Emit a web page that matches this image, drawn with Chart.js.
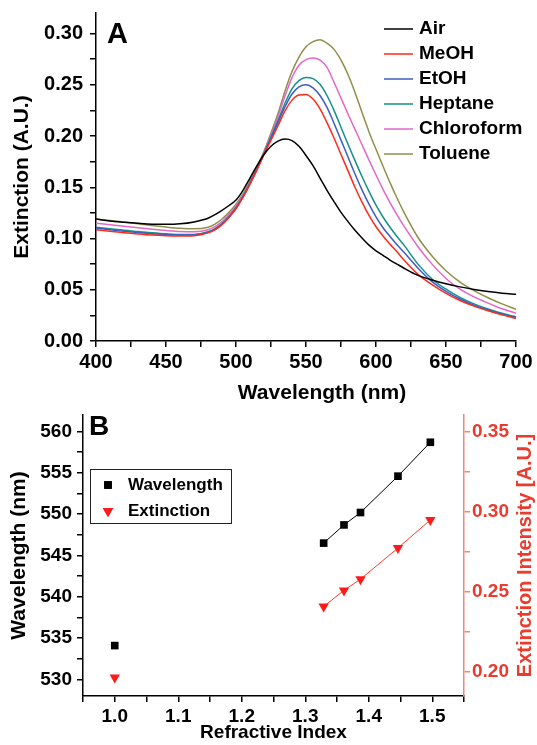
<!DOCTYPE html>
<html>
<head>
<meta charset="utf-8">
<title>Extinction spectra</title>
<script src="https://cdn.jsdelivr.net/npm/chart.js@4.4.0/dist/chart.umd.min.js"></script>
<style>
  html, body { margin: 0; padding: 0; background: #fff; }
  #wrapA { position: absolute; left: 0; top: 0; width: 537px; height: 405px; }
  #wrapB { position: absolute; left: 0; top: 405px; width: 537px; height: 340px; }
</style>
</head>
<body>
<div id="wrapA"><canvas id="spectraChart"></canvas></div>
<div id="wrapB"><canvas id="shiftChart"></canvas></div>
<script>
// Panel A - extinction spectra
const wavelengths = [400, 410, 420, 430, 440, 450, 460, 470, 480, 485, 490, 495, 500, 505, 510, 515, 520, 525, 530, 535,
  540, 545, 550, 555, 560, 565, 570, 575, 580, 585, 590, 595, 600, 605, 610, 615, 620, 630, 640, 650, 660, 670, 680, 690, 700];

const air = [0.119, 0.117, 0.1158, 0.1148, 0.114, 0.1138, 0.1143, 0.1162, 0.1198, 0.1232, 0.1275, 0.1322, 0.1375, 0.147, 0.159, 0.171, 0.182, 0.190, 0.195, 0.197,
  0.1955, 0.190, 0.181, 0.171, 0.159, 0.147, 0.136, 0.1255, 0.1165, 0.108, 0.1005, 0.0935, 0.088, 0.0835, 0.079, 0.075, 0.071, 0.064, 0.0595, 0.0558, 0.0528, 0.0503, 0.0483, 0.0467, 0.0455];
const meoh = [0.1085, 0.107, 0.1055, 0.1043, 0.1033, 0.1027, 0.1025, 0.1028, 0.1055, 0.1085, 0.1135, 0.1205, 0.129, 0.140, 0.153, 0.167, 0.182, 0.196, 0.210, 0.2245,
  0.235, 0.240, 0.2405, 0.236, 0.2265, 0.213, 0.198, 0.182, 0.166, 0.150, 0.1355, 0.1225, 0.1115, 0.1025, 0.0945, 0.087, 0.079, 0.065, 0.055, 0.0465, 0.0395, 0.034, 0.0295, 0.0255, 0.022];
const etoh = [0.110, 0.1085, 0.107, 0.1058, 0.1047, 0.1038, 0.1033, 0.1035, 0.106, 0.109, 0.114, 0.121, 0.1295, 0.1405, 0.1535, 0.1675, 0.1825, 0.1975, 0.213, 0.2285,
  0.241, 0.248, 0.250, 0.247, 0.2395, 0.228, 0.2125, 0.196, 0.1795, 0.163, 0.1475, 0.1335, 0.121, 0.1105, 0.102, 0.094, 0.0865, 0.071, 0.058, 0.0485, 0.041, 0.035, 0.0302, 0.0262, 0.023];
const heptane = [0.111, 0.1095, 0.108, 0.1068, 0.1056, 0.1046, 0.104, 0.104, 0.1065, 0.1095, 0.1145, 0.1215, 0.130, 0.141, 0.154, 0.168, 0.183, 0.199, 0.215, 0.232,
  0.246, 0.254, 0.257, 0.256, 0.2505, 0.2395, 0.225, 0.2085, 0.192, 0.176, 0.1605, 0.146, 0.1325, 0.121, 0.111, 0.102, 0.0935, 0.075, 0.0605, 0.0505, 0.0425, 0.0362, 0.0312, 0.027, 0.0237];
const chloroform = [0.115, 0.1135, 0.112, 0.1105, 0.109, 0.1078, 0.1068, 0.1065, 0.1085, 0.1115, 0.1165, 0.1235, 0.1315, 0.142, 0.155, 0.169, 0.184, 0.201, 0.219, 0.239,
  0.257, 0.269, 0.2745, 0.276, 0.274, 0.267, 0.2525, 0.237, 0.2215, 0.2065, 0.1915, 0.1765, 0.162, 0.148, 0.135, 0.123, 0.112, 0.092, 0.075, 0.061, 0.0505, 0.043, 0.037, 0.0315, 0.027];
const toluene = [0.119, 0.1175, 0.116, 0.1143, 0.1127, 0.1112, 0.110, 0.1095, 0.111, 0.114, 0.119, 0.1255, 0.1335, 0.1435, 0.156, 0.170, 0.185, 0.203, 0.222, 0.244,
  0.263, 0.277, 0.287, 0.292, 0.294, 0.2905, 0.2845, 0.274, 0.260, 0.2425, 0.223, 0.204, 0.187, 0.1705, 0.1545, 0.1395, 0.1255, 0.101, 0.083, 0.0685, 0.0575, 0.0492, 0.0422, 0.0362, 0.031];

const seriesNames = ['Air', 'MeOH', 'EtOH', 'Heptane', 'Chloroform', 'Toluene'];
const seriesValues = [air, meoh, etoh, heptane, chloroform, toluene];
const seriesColors = ['#000000', '#ff2a1a', '#3d5cc4', '#12918b', '#e466c8', '#8f8f4a'];

// Panel B - peak position and peak extinction vs refractive index
const refractiveIndex = [1.0, 1.329, 1.361, 1.387, 1.446, 1.497];
const peakWavelength = [534.1, 546.5, 548.7, 550.2, 554.6, 558.7];
const peakExtinction = [0.1965, 0.241, 0.251, 0.258, 0.2775, 0.295];

const FONT = '"Liberation Sans", Arial, Helvetica, sans-serif';
const RED_TEXT = '#ec3a2c';
const RED_AXIS = '#f0857a';

Chart.defaults.font.family = FONT;
Chart.defaults.font.weight = 'bold';
Chart.defaults.color = '#000';

// legend, x title and panel letter for A
const spectraLegend = {
  id: 'spectraLegend',
  afterDraw(chart) {
    const ctx = chart.ctx;
    ctx.save();
    ctx.font = 'bold 19px ' + FONT;
    ctx.textBaseline = 'middle';
    chart.data.datasets.forEach((ds, i) => {
      const y = 29 + i * 25;
      ctx.strokeStyle = ds.borderColor;
      ctx.lineWidth = 1.5;
      ctx.beginPath();
      ctx.moveTo(384, y);
      ctx.lineTo(413, y);
      ctx.stroke();
      ctx.fillStyle = '#000';
      ctx.fillText(ds.label, 419, y);
    });
    // x title sits a little right of centre in the original
    ctx.font = 'bold 21px ' + FONT;
    ctx.textAlign = 'center';
    ctx.fillText('Wavelength (nm)', 322, 393);
    ctx.textAlign = 'left';
    ctx.font = 'bold 29px ' + FONT;
    ctx.textBaseline = 'alphabetic';
    ctx.fillText('A', 107, 43);
    ctx.restore();
  }
};

// boxed legend, right title and panel letter for B
const shiftLegend = {
  id: 'shiftLegend',
  afterDraw(chart) {
    const ctx = chart.ctx;
    const area = chart.chartArea;
    ctx.save();
    ctx.strokeStyle = '#222';
    ctx.lineWidth = 1;
    ctx.strokeRect(90.5, 64.5, 141, 54);
    ctx.font = 'bold 17px ' + FONT;
    ctx.textBaseline = 'middle';
    chart.data.datasets.forEach((ds, i) => {
      const y = 80 + i * 26;
      ctx.fillStyle = ds.backgroundColor;
      ctx.beginPath();
      Chart.helpers.drawPoint(ctx, {
        pointStyle: ds.pointStyle,
        rotation: ds.rotation || 0,
        radius: ds.pointRadius,
        borderWidth: 0
      }, 108, y);
      ctx.fill();
      ctx.fillStyle = '#000';
      ctx.fillText(ds.label, 128, y);
    });

    // right axis title reads bottom-to-top like the left one
    ctx.save();
    ctx.translate(525, (area.top + area.bottom) / 2);
    ctx.rotate(-Math.PI / 2);
    ctx.textAlign = 'center';
    ctx.fillStyle = RED_TEXT;
    ctx.font = 'bold 20px ' + FONT;
    ctx.fillText('Extinction Intensity [A.U.]', 0, 0);
    ctx.restore();

    ctx.fillStyle = '#000';
    ctx.font = 'bold 28px ' + FONT;
    ctx.textBaseline = 'alphabetic';
    ctx.fillText('B', 89, 30);
    ctx.restore();
  }
};

new Chart(document.getElementById('spectraChart'), {
  type: 'line',
  data: {
    datasets: seriesNames.map((name, i) => ({
      label: name,
      data: wavelengths.map((w, j) => ({ x: w, y: seriesValues[i][j] })),
      borderColor: seriesColors[i],
      backgroundColor: seriesColors[i],
      borderWidth: 1.5,
      pointRadius: 0,
      cubicInterpolationMode: 'monotone'
    }))
  },
  options: {
    responsive: true,
    maintainAspectRatio: false,
    animation: false,
    devicePixelRatio: 1,
    layout: { padding: { top: 13, right: 21, left: 0, bottom: 0 } },
    plugins: { legend: { display: false }, tooltip: { enabled: false } },
    scales: {
      x: {
        type: 'linear',
        min: 400,
        max: 700,
        border: { color: '#000', width: 1.5 },
        grid: { drawOnChartArea: false, tickLength: 6, color: '#000', lineWidth: 1.5 },
        ticks: {
          stepSize: 25,
          autoSkip: false,
          maxRotation: 0,
          padding: 3,
          font: { size: 20, weight: 'bold' },
          callback: v => (v % 50 === 0 ? v : '')
        },
        title: { display: false },
        afterFit: s => { s.height = 64; s.paddingLeft = 0; s.paddingRight = 0; }
      },
      y: {
        min: 0,
        max: 0.32,
        border: { color: '#000', width: 1.5 },
        grid: { drawOnChartArea: false, tickLength: 6, color: '#000', lineWidth: 1.5 },
        ticks: {
          stepSize: 0.025,
          includeBounds: false,
          autoSkip: false,
          padding: 7,
          font: { size: 20, weight: 'bold' },
          callback: v => (Math.abs(v * 20 - Math.round(v * 20)) < 1e-6 ? v.toFixed(2) : '')
        },
        title: { display: true, text: 'Extinction (A.U.)', font: { size: 21, weight: 'bold' }, padding: { top: 10, bottom: 0 } },
        afterFit: s => { s.width = 96; s.paddingTop = 0; s.paddingBottom = 0; }
      }
    }
  },
  plugins: [spectraLegend]
});

new Chart(document.getElementById('shiftChart'), {
  type: 'scatter',
  data: {
    datasets: [
      {
        label: 'Wavelength',
        data: refractiveIndex.map((n, i) => ({ x: n, y: peakWavelength[i] })),
        yAxisID: 'y',
        showLine: true,
        borderColor: '#000',
        backgroundColor: '#000',
        borderWidth: 1,
        pointStyle: 'rect',
        pointRadius: 5.4,
        pointBorderWidth: 0,
        segment: { borderColor: c => (c.p0DataIndex === 0 ? 'rgba(0,0,0,0)' : '#000') }
      },
      {
        label: 'Extinction',
        data: refractiveIndex.map((n, i) => ({ x: n, y: peakExtinction[i] })),
        yAxisID: 'y1',
        showLine: true,
        borderColor: '#ff3b2e',
        backgroundColor: '#ff1a1a',
        borderWidth: 1,
        pointStyle: 'triangle',
        rotation: 180,
        pointRotation: 180,
        pointRadius: 6,
        pointBorderWidth: 0,
        segment: { borderColor: c => (c.p0DataIndex === 0 ? 'rgba(0,0,0,0)' : '#ff3b2e') }
      }
    ]
  },
  options: {
    responsive: true,
    maintainAspectRatio: false,
    animation: false,
    devicePixelRatio: 1,
    layout: { padding: { top: 10, right: 0, left: 0, bottom: 0 } },
    plugins: { legend: { display: false }, tooltip: { enabled: false } },
    scales: {
      x: {
        type: 'linear',
        min: 0.95,
        max: 1.55,
        border: { color: '#000', width: 1.5 },
        grid: { drawOnChartArea: false, tickLength: 6, color: '#000', lineWidth: 1.5 },
        ticks: {
          stepSize: 0.05,
          autoSkip: false,
          maxRotation: 0,
          padding: 3,
          font: { size: 19, weight: 'bold' },
          callback: v => (Math.abs(v * 10 - Math.round(v * 10)) < 1e-6 ? v.toFixed(1) : '')
        },
        title: { display: true, text: 'Refractive Index', font: { size: 19, weight: 'bold' }, padding: { top: 0, bottom: 1 } },
        afterFit: s => { s.height = 49; s.paddingLeft = 0; s.paddingRight = 0; }
      },
      y: {
        position: 'left',
        min: 528,
        max: 562,
        border: { color: '#000', width: 1.5 },
        grid: { drawOnChartArea: false, tickLength: 6, color: '#000', lineWidth: 1.5 },
        ticks: {
          stepSize: 2.5,
          includeBounds: false,
          autoSkip: false,
          padding: 5,
          font: { size: 19, weight: 'bold' },
          callback: v => (Math.abs(v / 5 - Math.round(v / 5)) < 1e-6 ? Math.round(v) : '')
        },
        title: { display: true, text: 'Wavelength (nm)', font: { size: 21, weight: 'bold' }, padding: { top: 7, bottom: 0 } },
        afterFit: s => { s.width = 83; s.paddingTop = 0; s.paddingBottom = 0; }
      },
      y1: {
        position: 'right',
        min: 0.185,
        max: 0.3606,
        border: { color: RED_AXIS, width: 1.5 },
        grid: { drawOnChartArea: false, tickLength: 6, color: RED_AXIS, lineWidth: 1.5 },
        ticks: {
          stepSize: 0.025,
          includeBounds: false,
          autoSkip: false,
          padding: 2,
          color: RED_TEXT,
          font: { size: 19, weight: 'bold' },
          callback: v => (Math.abs(v * 20 - Math.round(v * 20)) < 1e-6 ? v.toFixed(2) : '')
        },
        title: { display: false },
        afterFit: s => { s.width = 73; s.paddingTop = 0; s.paddingBottom = 0; }
      }
    }
  },
  plugins: [shiftLegend]
});
</script>
</body>
</html>
